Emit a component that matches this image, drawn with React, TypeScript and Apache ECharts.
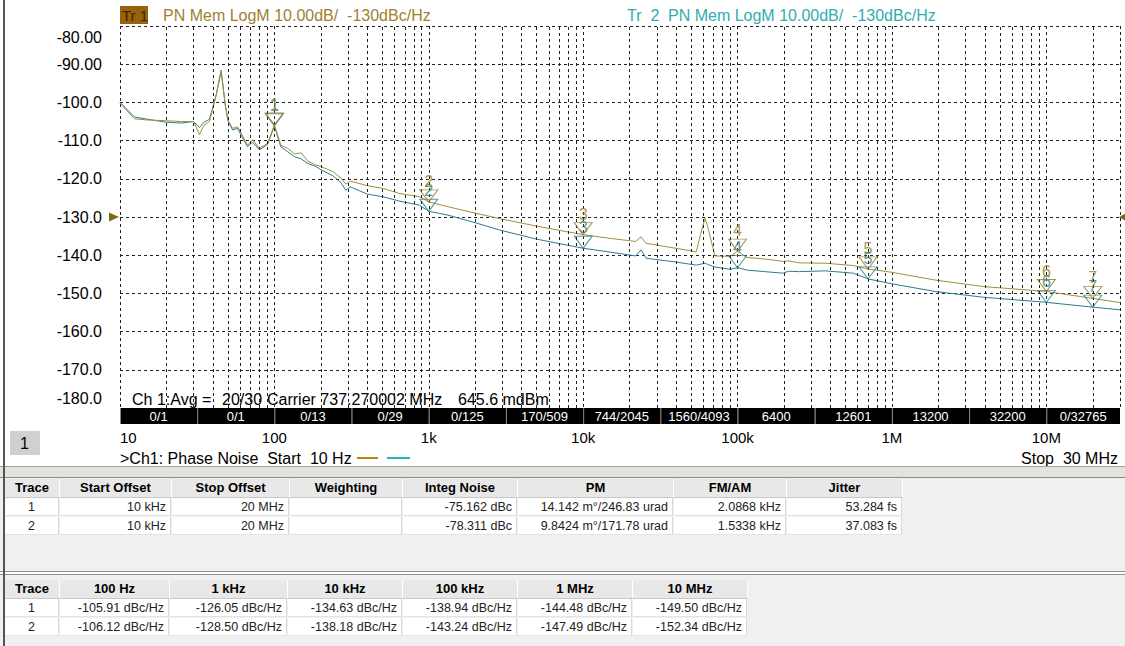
import React, { useEffect, useRef } from "react";
import * as echarts from "echarts";

const FONT = "'Liberation Sans', Arial, sans-serif";

// ---- trace data (offset frequency in Hz, phase noise in dBc/Hz) ----
const freqs = [
  10, 12.4, 15, 20, 25, 30, 32.7, 35, 38, 42, 45.2, 48, 50, 53.6, 57.9, 62, 67, 72.3, 80, 90.5,
  100, 110, 122, 135, 149, 165, 186, 200, 239, 270, 290, 310, 400, 505, 640, 870,
  1000, 1330, 2000, 2870, 5000, 10000, 15000, 21900, 23700, 25600, 40000, 54000, 58600, 61700,
  64000, 69000, 71500, 90000, 100000, 115000, 150000, 196000, 215000, 251000, 370000, 560000,
  700000, 1000000, 1900000, 3900000, 10000000, 20000000, 30000000,
];
const trace1 = [
  -100.2, -104.3, -104.6, -104.8, -105.0, -105.0, -108.4, -106.0, -105.0, -98.0, -91.5, -100.5, -104.6, -106.8, -106.4, -108.6, -111.2, -109.8, -112.0, -110.7,
  -105.91, -111.2, -112.0, -113.5, -113.2, -115.4, -116.4, -116.8, -118.1, -119.8, -121.4, -120.6, -121.8, -122.5, -123.8, -124.7,
  -126.05, -127.3, -129.0, -130.4, -132.4, -134.63, -135.6, -136.4, -135.2, -136.9, -138.2, -139.1, -133.4, -130.3,
  -132.5, -137.8, -140.2, -140.3, -138.94, -140.6, -141.0, -141.6, -141.5, -142.0, -142.1, -142.7,
  -143.6, -144.48, -146.5, -148.2, -149.5, -151.3, -152.4,
];
const trace2 = [
  -100.0, -103.8, -104.4, -105.2, -105.4, -105.0, -106.6, -105.2, -104.4, -98.0, -91.8, -100.5, -104.8, -107.2, -106.8, -109.2, -111.6, -110.4, -112.4, -111.0,
  -106.12, -111.6, -112.9, -114.2, -114.8, -116.0, -116.8, -117.6, -119.2, -121.0, -123.0, -122.1, -124.0, -124.7, -125.8, -126.9,
  -128.5, -129.5, -131.5, -133.4, -135.8, -138.18, -139.2, -140.2, -138.6, -140.8, -141.8, -142.6, -142.3, -142.1,
  -142.4, -142.9, -143.1, -143.7, -143.24, -143.9, -144.3, -144.7, -144.2, -144.3, -144.1, -144.7,
  -146.2, -147.49, -149.5, -151.0, -152.34, -153.6, -154.3,
];

// ---- markers ----
const markerNames = ["1", "2", "3", "4", "5", "6", "7"];
const markerFreqs = [100, 1000, 10000, 100000, 700000, 10000000, 20000000];
const markerT1 = [-105.91, -126.05, -134.63, -138.94, -143.6, -149.5, -151.3];
const markerT2 = [-106.12, -128.5, -138.18, -143.24, -146.2, -152.34, -153.6];

// ---- axis ticks ----
const decadeLabels = ["10", "100", "1k", "10k", "100k", "1M", "10M"];
const decades = [10, 100, 1000, 10000, 100000, 1000000, 10000000];
const minorMultipliers = [2, 3, 4, 5, 6, 7, 8, 9];

// ---- averaging strip ----
const stripEdges = [10, 31.62, 100, 316.2, 1000, 3162, 10000, 31620, 100000, 316200, 1000000, 3162000, 10000000, 30000000];
const stripCounts = ["0/1", "0/1", "0/13", "0/29", "0/125", "170/509", "744/2045", "1560/4093", "6400", "12601", "13200", "32200", "0/32765"];

// ---- tables ----
const integHeaders = ["Trace", "Start Offset", "Stop Offset", "Weighting", "Integ Noise", "PM", "FM/AM", "Jitter"];
const integRows = [
  ["1", "10 kHz", "20 MHz", "", "-75.162 dBc", "14.142 m°/246.83 urad", "2.0868 kHz", "53.284 fs"],
  ["2", "10 kHz", "20 MHz", "", "-78.311 dBc", "9.8424 m°/171.78 urad", "1.5338 kHz", "37.083 fs"],
];
const spotHeaders = ["Trace", "100 Hz", "1 kHz", "10 kHz", "100 kHz", "1 MHz", "10 MHz"];
const spotT1 = [-105.91, -126.05, -134.63, -138.94, -144.48, -149.5];
const spotT2 = [-106.12, -128.5, -138.18, -143.24, -147.49, -152.34];

const C1 = "#a0903a";
const C2 = "#2d7a8c";
const C1M = "#8f7e22";
const C2M = "#2f7f86";

const integCols = [5, 60, 172, 290, 403, 518, 674, 787, 903];
const spotCols = [5, 60, 170, 288, 403, 518, 633, 748];

function Table({ top, cols, headers, rows }: { top: number; cols: number[]; headers: string[]; rows: string[][] }) {
  const cells: any[] = [];
  headers.forEach((h, i) => {
    cells.push(
      <div key={"h" + i} style={{
        position: "absolute", left: cols[i], top: top, width: cols[i + 1] - cols[i] - 1, height: 18,
        background: "#e8e8e8", borderRight: "1px solid #fff", borderBottom: "1px solid #c8c8c8",
        font: `bold 13px ${FONT}`, textAlign: "center", lineHeight: "18px", color: "#000",
      }}>{h}</div>
    );
  });
  rows.forEach((r, ri) => {
    r.forEach((v, i) => {
      cells.push(
        <div key={"r" + ri + "_" + i} style={{
          position: "absolute", left: cols[i], top: top + 19 + ri * 19, width: cols[i + 1] - cols[i] - 1, height: 18,
          background: "#fff", borderRight: "1px solid #d8d8d8", borderBottom: "1px solid #e4e4e4",
          font: `12.5px ${FONT}`, textAlign: i === 0 ? "center" : "right", lineHeight: "18px", color: "#222",
          paddingRight: i === 0 ? 0 : 4, boxSizing: "border-box",
        }}>{v}</div>
      );
    });
  });
  return <>{cells}</>;
}

export default function App() {
  const ref = useRef<HTMLDivElement>(null);
  useEffect(() => {
    const chart = echarts.init(ref.current!, undefined, { renderer: "svg" });
    const minorLines: any[] = [];
    decades.forEach((d) => minorMultipliers.forEach((m) => {
      if (d * m < 30000000) minorLines.push({ xAxis: d * m });
    }));
    const yFmt = (v: number) => (Math.abs(v) < 100 ? v.toFixed(2) : v.toFixed(1));
    const markerSeries = (vals: number[], color: string, z: number) => ({
      type: "scatter", data: markerFreqs.map((f, i) => [f, vals[i]]),
      symbol: "path://M0,0L18,0L9,12Z", symbolSize: [18, 12], symbolOffset: [0, -6],
      itemStyle: { color: "rgba(0,0,0,0)", borderColor: color, borderWidth: 1 },
      label: { show: true, position: "top", distance: 0, fontSize: 16, color, fontFamily: FONT, formatter: (p: any) => markerNames[p.dataIndex] },
      z, silent: true,
    });
    const option: any = {
      animation: false,
      textStyle: { fontFamily: FONT },
      grid: { left: 120, right: 5, top: 26, bottom: 58 },
      xAxis: {
        type: "log", logBase: 10, min: 10, max: 30000000,
        axisLine: { show: false }, axisTick: { show: false },
        axisLabel: {
          margin: 22, fontSize: 15, color: "#000", fontFamily: FONT,
          alignMinLabel: "left", showMaxLabel: false,
          formatter: (v: number) => {
            const e = Math.log10(v); const r = Math.round(e);
            if (Math.abs(e - r) > 1e-6 || r < 1 || r > 7) return "";
            return decadeLabels[r - 1];
          },
        },
        splitLine: { show: true, lineStyle: { type: [3, 3], color: "#222", width: 1 } },
      },
      yAxis: {
        type: "value", min: -180, max: -80, interval: 10,
        axisLine: { show: false }, axisTick: { show: false },
        axisLabel: {
          margin: 18, fontSize: 16, color: "#000", fontFamily: FONT,
          formatter: (v: number) => {
            const s = yFmt(v);
            if (v === -80) return `{top|${s}}`;
            if (v === -180) return `{bot|${s}}`;
            return s;
          },
          rich: {
            top: { padding: [22, 0, 0, 0], fontSize: 16, color: "#000", fontFamily: FONT },
            bot: { padding: [0, 0, 20, 0], fontSize: 16, color: "#000", fontFamily: FONT },
          },
        },
        splitLine: { show: true, lineStyle: { type: [3, 3], color: "#222", width: 1 } },
      },
      series: [
        {
          type: "line", name: "Tr 1", data: freqs.map((f, i) => [f, trace1[i]]),
          symbol: "none", lineStyle: { color: C1, width: 1 }, itemStyle: { color: C1 }, z: 3,
          markLine: {
            silent: true, symbol: ["none", "none"], label: { show: false },
            lineStyle: { type: [3, 3], color: "#222", width: 1 }, data: minorLines,
          },
          markPoint: {
            silent: true, label: { show: false },
            data: [
              { coord: [10, -130], symbol: "triangle", symbolSize: [9, 10], symbolRotate: -90, symbolOffset: [-6, 0], itemStyle: { color: "#7d6b10" } },
              { coord: [30000000, -130], symbol: "triangle", symbolSize: [9, 8], symbolRotate: 90, symbolOffset: [3, 0], itemStyle: { color: "#7d6b10" } },
            ],
          },
        },
        {
          type: "line", name: "Tr 2", data: freqs.map((f, i) => [f, trace2[i]]),
          symbol: "none", lineStyle: { color: C2, width: 1 }, itemStyle: { color: C2 }, z: 2,
        },
        markerSeries(markerT2, C2M, 4),
        markerSeries(markerT1, C1M, 5),
        {
          type: "custom", silent: true, clip: false, z: 10,
          data: stripCounts.map((c, i) => [stripEdges[i], -180, stripEdges[i + 1], i]),
          encode: { x: 0, y: 1 },
          renderItem: (params: any, api: any) => {
            const i = api.value(3);
            const p0 = api.coord([api.value(0), -180]);
            const p1 = api.coord([api.value(2), -180]);
            return {
              type: "group",
              children: [
                { type: "rect", shape: { x: p0[0], y: p0[1], width: p1[0] - p0[0], height: 16 }, style: { fill: "#000" } },
                { type: "line", shape: { x1: p0[0] + 0.5, y1: p0[1], x2: p0[0] + 0.5, y2: p0[1] + 16 }, style: { stroke: "#888", lineWidth: 1 } },
                { type: "text", style: { x: (p0[0] + p1[0]) / 2, y: p0[1] + 8, text: stripCounts[i], fill: "#fff", fontSize: 13, fontFamily: FONT, align: "center", verticalAlign: "middle" } },
              ],
            };
          },
        },
      ],
      graphic: [
        { type: "rect", left: 120, top: 6, shape: { width: 28, height: 18 }, style: { fill: "#98620c" } },
        { type: "text", left: 122, top: 8, style: { text: "Tr 1", fill: "#3a2600", fontSize: 15, fontFamily: FONT } },
        { type: "text", left: 163, top: 7, style: { text: "PN Mem LogM 10.00dB/  -130dBc/Hz", fill: "#a27f2f", fontSize: 16, fontFamily: FONT } },
        { type: "text", left: 627, top: 7, style: { text: "Tr  2", fill: "#30adb0", fontSize: 16, fontFamily: FONT } },
        { type: "text", left: 668, top: 7, style: { text: "PN Mem LogM 10.00dB/  -130dBc/Hz", fill: "#30adb0", fontSize: 16, fontFamily: FONT } },
        { type: "text", left: 132, top: 391, style: { text: "Ch 1:Avg =", fill: "#000", fontSize: 16, fontFamily: FONT } },
        { type: "text", left: 222, top: 391, style: { text: "20/30", fill: "#000", fontSize: 16, fontFamily: FONT } },
        { type: "text", left: 267, top: 391, style: { text: "Carrier 737.270002 MHz", fill: "#000", fontSize: 16, fontFamily: FONT } },
        { type: "text", left: 458, top: 391, style: { text: "645.6 mdBm", fill: "#000", fontSize: 16, fontFamily: FONT } },
        { type: "rect", left: 10, top: 431, shape: { width: 30, height: 24 }, style: { fill: "#d0d0d0" } },
        { type: "text", left: 20, top: 435, style: { text: "1", fill: "#000", fontSize: 16, fontFamily: FONT } },
        { type: "text", left: 120, top: 450, style: { text: ">Ch1: Phase Noise  Start  10 Hz", fill: "#000", fontSize: 16, fontFamily: FONT } },
        { type: "line", shape: { x1: 357, y1: 458, x2: 378, y2: 458 }, style: { stroke: "#b8860b", lineWidth: 2 } },
        { type: "line", shape: { x1: 387, y1: 458, x2: 410, y2: 458 }, style: { stroke: "#22b5b5", lineWidth: 2 } },
        { type: "text", right: 7, top: 450, style: { text: "Stop  30 MHz", fill: "#000", fontSize: 16, fontFamily: FONT } },
      ],
    };
    chart.setOption(option);
    return () => chart.dispose();
  }, []);

  const spotRows = [
    ["1", ...spotT1.map((v) => `${v.toFixed(2)} dBc/Hz`)],
    ["2", ...spotT2.map((v) => `${v.toFixed(2)} dBc/Hz`)],
  ];

  return (
    <div style={{ position: "fixed", left: 0, top: 0, width: 1125, height: 646, background: "#fff", overflow: "hidden", fontFamily: FONT }}>
      <div ref={ref} style={{ position: "absolute", left: 0, top: 0, width: 1125, height: 466 }} />
      <div style={{ position: "absolute", left: 0, top: 466, width: 1125, height: 180, background: "#f0f0f0" }}>
        <div style={{ position: "absolute", left: 0, top: 0, width: 1125, height: 1, background: "#a0a0a0" }} />
        <div style={{ position: "absolute", left: 0, top: 1, width: 1125, height: 10, background: "#e4e2dc" }} />
        <div style={{ position: "absolute", left: 0, top: 11, width: 1125, height: 1, background: "#8a8a8a" }} />
        <Table top={13} cols={integCols} headers={integHeaders} rows={integRows} />
        <div style={{ position: "absolute", left: 0, top: 105, width: 1125, height: 1, background: "#909090" }} />
        <div style={{ position: "absolute", left: 0, top: 106, width: 1125, height: 2, background: "#ffffff" }} />
        <div style={{ position: "absolute", left: 0, top: 108, width: 1125, height: 1, background: "#909090" }} />
        <Table top={114} cols={spotCols} headers={spotHeaders} rows={spotRows} />
      </div>
      <div style={{ position: "absolute", left: 3, top: 0, width: 2, height: 646, background: "#555" }} />
    </div>
  );
}
